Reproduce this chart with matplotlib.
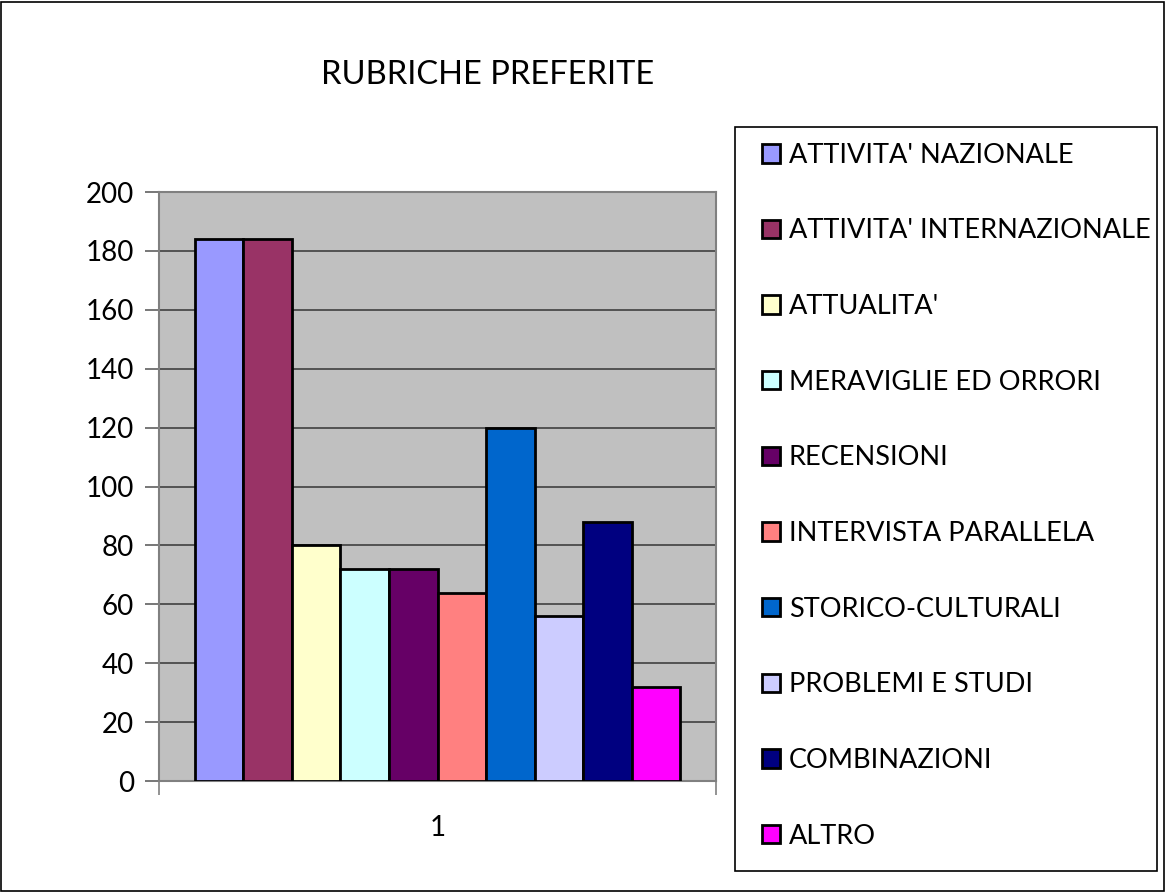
import matplotlib.pyplot as plt
from matplotlib.patches import Rectangle

# ---------------------------------------------- Data ---------------------------------------------------------------- #
categories = ["ATTIVITA' NAZIONALE", "ATTIVITA' INTERNAZIONALE", "ATTUALITA'", "MERAVIGLIE ED ORRORI",
              "RECENSIONI", "INTERVISTA PARALLELA", "STORICO-CULTURALI", "PROBLEMI E STUDI",
              "COMBINAZIONI", "ALTRO"]
values = [184, 184, 80, 72, 72, 64, 120, 56, 88, 32]
colors = ['#9999FF', '#993366', '#FFFFCC', '#CCFFFF', '#660066',
          '#FF8080', '#0066CC', '#CCCCFF', '#000080', '#FF00FF']
x_labels = ['1']
y_ticks = list(range(0, 201, 20))
# -------------------------------------------------------------------------------------------------------------------- #
plt.rcParams['font.family'] = ['Lato', 'DejaVu Sans']

fig = plt.figure(figsize=(11.66, 8.92), dpi=100)
ax = fig.add_axes([159 / 1166, 1 - 781 / 892, (716 - 159) / 1166, (781 - 192) / 892])
ax.set_facecolor('#C0C0C0')

n = len(values)
group = 0.8725
w = group / n
for i, (v, c, lab) in enumerate(zip(values, colors, categories)):
    ax.bar(-group / 2 + w * (i + 0.5), v, width=w, color=c, edgecolor='black', linewidth=2, label=lab, zorder=3)

ax.set_xlim(-0.5, 0.5)
ax.set_ylim(0, 200)
ax.set_yticks(y_ticks)
ax.set_yticklabels([str(t) for t in y_ticks], fontsize=20)
ax.yaxis.grid(True, color='#404040', linewidth=1.2, zorder=1)
ax.set_axisbelow(True)

# category boundary ticks on x axis
ax.set_xticks([-0.5, 0.5])
ax.set_xticklabels(['', ''])
ax.tick_params(axis='x', length=10, width=1.2, color='#808080', direction='out')
ax.tick_params(axis='y', length=10, width=1.2, color='#606060', direction='out', pad=8)
ax.text(0, -16, x_labels[0], ha='center', va='center', fontsize=20)

for s in ['left', 'bottom', 'right', 'top']:
    ax.spines[s].set_color('#808080')
    ax.spines[s].set_linewidth(1.5)

fig.text(488 / 1166, 1 - 75 / 892, 'RUBRICHE PREFERITE', ha='center', va='center', fontsize=23.5)

# legend box
fig.patches.append(Rectangle((735 / 1166, 1 - 871 / 892), (1157 - 735) / 1166, (871 - 127) / 892,
                             transform=fig.transFigure, fill=False, edgecolor='black', linewidth=1.2))
leg = fig.legend(loc='upper left', bbox_to_anchor=(751 / 1166, 1 - 132 / 892), frameon=False,
                 fontsize=19.5, handlelength=0.67, handleheight=0.67, handletextpad=0.33,
                 labelspacing=1.87, borderaxespad=0)

# outer border
fig.patches.append(Rectangle((1 / 1166, 1 / 892), 1163 / 1166, 889 / 892, transform=fig.transFigure,
                             fill=False, edgecolor='black', linewidth=1.2))

plt.savefig('out.png', dpi=100)
